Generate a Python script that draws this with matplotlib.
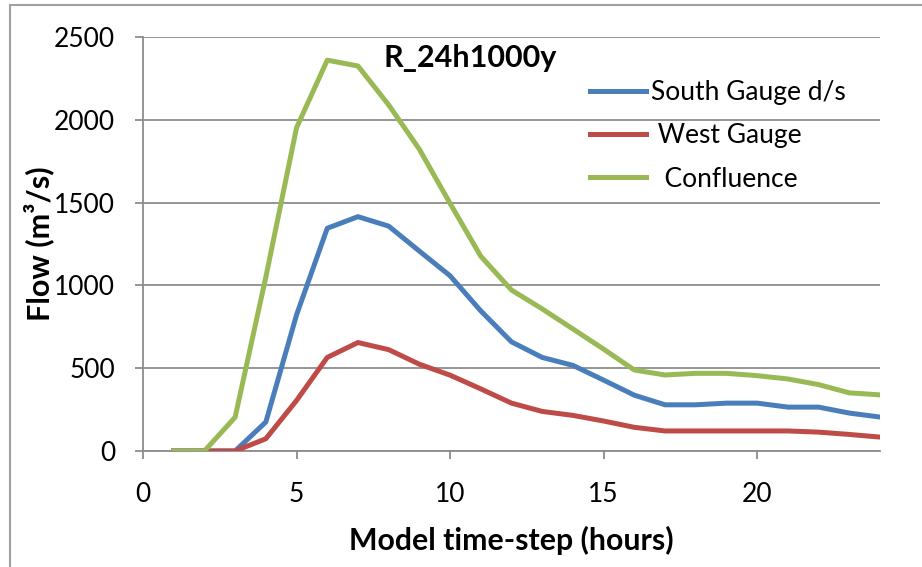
import matplotlib
matplotlib.use("Agg")
import matplotlib.pyplot as plt
from matplotlib.lines import Line2D

plt.rcParams['font.family'] = ['Lato', 'DejaVu Sans']

hours = list(range(1, 25))
south = [0, 0, 0, 175, 822, 1345, 1415, 1358, 1207, 1058, 846, 659, 565, 517, 428,
         337, 279, 279, 289, 289, 265, 265, 229, 205]
west = [0, 0, 0, 74, 305, 565, 655, 612, 524, 458, 375, 289, 239, 215, 181,
        143, 121, 121, 121, 121, 121, 114, 100, 84]
confluence = [0, 0, 204, 1050, 1952, 2360, 2325, 2090, 1822, 1495, 1176, 972, 858, 737, 615,
              489, 459, 469, 469, 455, 435, 401, 351, 339]
labels = ["South Gauge d/s", " West Gauge", "  Confluence"]
title = "R_24h1000y"

fig = plt.figure(figsize=(9.22, 5.67), dpi=100)
ax = fig.add_axes([143/922, 1-451/567, (880-143)/922, (451-37)/567])

lw = 3.6
ax.plot(hours, south, color='#4A7EBB', lw=lw, label=labels[0], solid_joinstyle='round', zorder=3)
ax.plot(hours, west, color='#BE4B48', lw=lw, label=labels[1], solid_joinstyle='round', zorder=4)
ax.plot(hours, confluence, color='#98B954', lw=lw, label=labels[2], solid_joinstyle='round', zorder=5)

ax.set_xlim(0, 24)
ax.set_ylim(0, 2500)
ax.set_xticks([0, 5, 10, 15, 20])
ax.set_yticks([0, 500, 1000, 1500, 2000, 2500])
ax.grid(axis='y', color='#8C8C8C', lw=1.3)
ax.set_axisbelow(True)
for s in ['top', 'right']:
    ax.spines[s].set_visible(False)
for s in ['left', 'bottom']:
    ax.spines[s].set_color('#8C8C8C')
    ax.spines[s].set_linewidth(1.3)
ax.tick_params(axis='both', direction='out', length=6, width=1.3, color='#8C8C8C',
               labelsize=19, labelcolor='black')
ax.tick_params(axis='x', pad=16)
ax.tick_params(axis='y', pad=14)

ax.set_xlabel("Model time-step (hours)", fontsize=21.8, fontweight='bold', labelpad=14)
ax.set_ylabel("Flow (m³/s)", fontsize=22, fontweight='bold', labelpad=0)

ax.text(0.444, 0.949, title, transform=ax.transAxes, fontsize=22, fontweight='bold',
        ha='center', va='center')

leg = ax.legend(loc='upper right', bbox_to_anchor=(0.975, 0.935), frameon=False, fontsize=19,
                handlelength=2.1, handletextpad=0.2, labelspacing=0.7, borderaxespad=0.2)

fig.add_artist(Line2D([10/922, 10/922], [0, 1-5/567], transform=fig.transFigure,
                      color='#A0A0A0', lw=1.5))
fig.add_artist(Line2D([10/922, 1], [1-5/567, 1-5/567], transform=fig.transFigure,
                      color='#A0A0A0', lw=1.5))

fig.savefig("out.png", dpi=100)
